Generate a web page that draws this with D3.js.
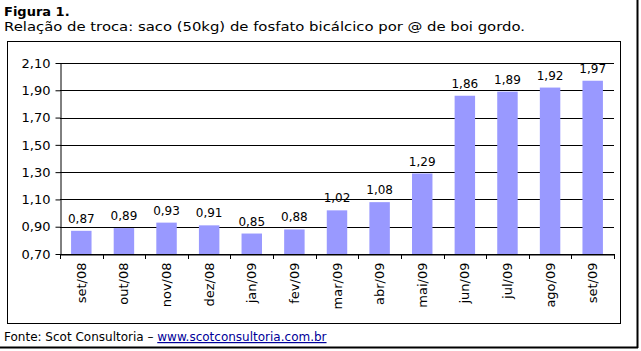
<!DOCTYPE html>
<html>
<head>
    <meta charset="utf-8">
    <script src="https://d3js.org/d3.v7.min.js"></script>
    <style>
        body { margin: 0; background: #fff; }
        text { font-family: "DejaVu Sans", Verdana, sans-serif; }
    </style>
</head>
<body>
    <svg width="641" height="351" id="mainSvg"></svg>
    <script>
        const months = ["set/08", "out/08", "nov/08", "dez/08", "jan/09", "fev/09", "mar/09",
            "abr/09", "mai/09", "jun/09", "jul/09", "ago/09", "set/09"];
        const ratios = [0.87, 0.89, 0.93, 0.91, 0.85, 0.88, 1.02, 1.08, 1.29, 1.86, 1.89, 1.92, 1.97];
        const yTicks = [0.70, 0.90, 1.10, 1.30, 1.50, 1.70, 1.90, 2.10];

        const svg = d3.select("#mainSvg");
        const fmt = v => d3.format(".2f")(v).replace(".", ",");

        // moldura externa (só direita e baixo)
        svg.append("line").attr("x1", 637.5).attr("x2", 637.5).attr("y1", 0).attr("y2", 348)
            .attr("stroke", "#000").attr("stroke-width", 2);
        svg.append("line").attr("x1", 0).attr("x2", 638).attr("y1", 347.5).attr("y2", 347.5)
            .attr("stroke", "#000").attr("stroke-width", 2);

        // títulos
        svg.append("text").attr("x", 4).attr("y", 16)
            .attr("font-size", 13).attr("font-weight", "bold")
            .text("Figura 1.");
        svg.append("text").attr("x", 4).attr("y", 31)
            .attr("font-size", 13).attr("textLength", 521).attr("lengthAdjust", "spacingAndGlyphs")
            .text("Relação de troca: saco (50kg) de fosfato bicálcico por @ de boi gordo.");

        // caixa do gráfico
        svg.append("rect").attr("x", 7.5).attr("y", 41.5).attr("width", 613).attr("height", 282)
            .attr("fill", "none").attr("stroke", "#000").attr("stroke-width", 1);

        const plot = { left: 60, right: 614, top: 63, bottom: 254 };
        const g = svg.append("g");

        const x = d3.scaleBand().domain(months).range([plot.left, plot.right]).paddingInner(0.52).paddingOuter(0.26);
        const y = d3.scaleLinear().domain([0.7, 2.1]).range([plot.bottom, plot.top]);

        // linhas de grade
        g.selectAll(".grid").data(yTicks).join("line")
            .attr("x1", plot.left).attr("x2", plot.right)
            .attr("y1", d => Math.round(y(d)) + 0.5).attr("y2", d => Math.round(y(d)) + 0.5)
            .attr("stroke", "#000").attr("stroke-width", 1);

        // barras
        g.selectAll(".bar").data(ratios).join("rect")
            .attr("x", (d, i) => x(months[i]))
            .attr("y", d => y(d))
            .attr("width", x.bandwidth())
            .attr("height", d => plot.bottom - y(d))
            .attr("fill", "#9999ff");

        // rótulos de dados
        g.selectAll(".lbl").data(ratios).join("text")
            .attr("x", (d, i) => x(months[i]) + x.bandwidth() / 2)
            .attr("y", d => y(d) - 8)
            .attr("text-anchor", "middle")
            .attr("font-size", 12)
            .text(fmt);

        // eixo y
        const yAxis = d3.axisLeft(y).tickValues(yTicks).tickFormat(fmt).tickSize(5).tickSizeOuter(0);
        const yg = g.append("g").attr("transform", `translate(${plot.left + 0.5},0)`).call(yAxis);
        yg.select(".domain").attr("stroke", "#000");
        yg.selectAll(".tick line").attr("stroke", "#000");
        yg.selectAll(".tick text").attr("font-size", 13).attr("font-family", "DejaVu Sans").attr("fill", "#000").attr("x", -10);

        // eixo x
        const xg = g.append("g").attr("transform", `translate(0,${plot.bottom + 0.5})`)
            .call(d3.axisBottom(x).tickSize(0).tickSizeOuter(0));
        xg.select(".domain").attr("stroke", "#000");
        xg.selectAll(".tick text")
            .attr("font-size", 13).attr("font-family", "DejaVu Sans").attr("fill", "#000")
            .attr("transform", "rotate(-90)")
            .attr("text-anchor", "end")
            .attr("x", -8).attr("y", 0).attr("dy", "0.35em");
        const bounds = d3.range(months.length + 1).map(i => plot.left + i * (plot.right - plot.left) / months.length);
        g.selectAll(".xtick").data(bounds).join("line")
            .attr("x1", d => Math.round(d) + 0.5).attr("x2", d => Math.round(d) + 0.5)
            .attr("y1", plot.bottom).attr("y2", plot.bottom + 5)
            .attr("stroke", "#000");

        // fonte
        const fonte = svg.append("text").attr("x", 4).attr("y", 341).attr("font-size", 12);
        fonte.append("tspan").text("Fonte: Scot Consultoria – ");
        fonte.append("tspan").attr("fill", "#000099").attr("text-decoration", "underline")
            .text("www.scotconsultoria.com.br");
    </script>
</body>
</html>
